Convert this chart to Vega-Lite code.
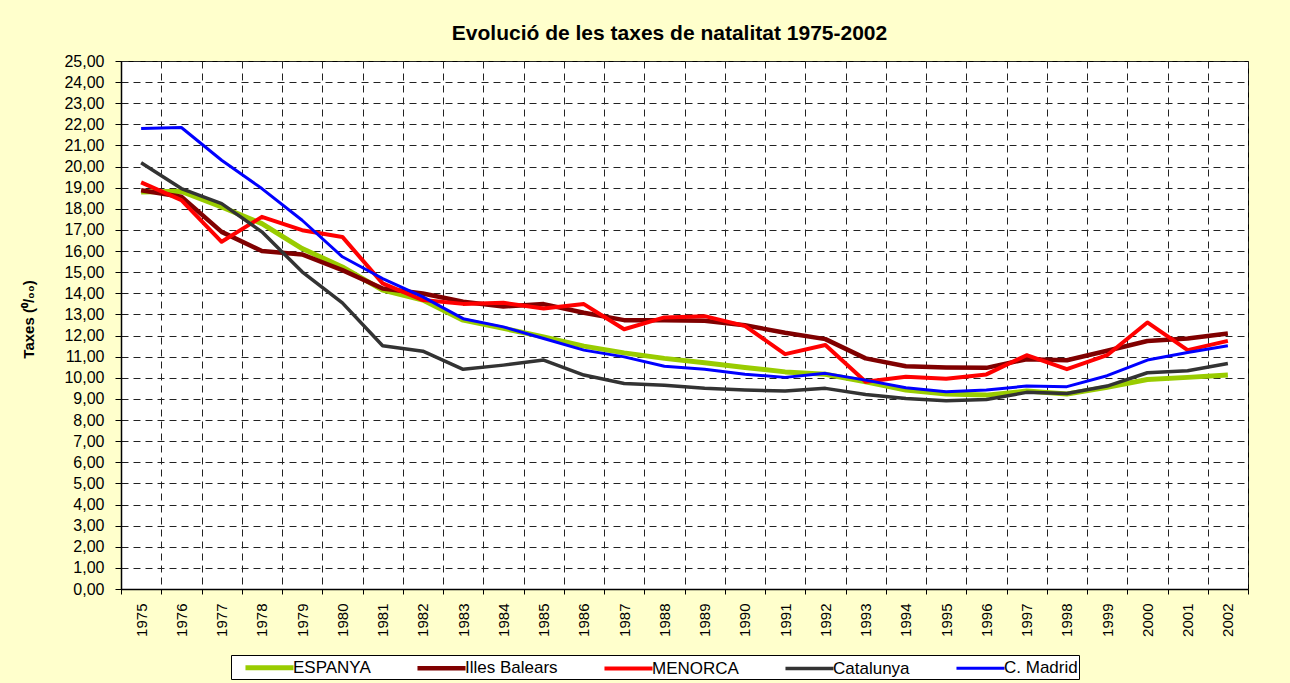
{
  "$schema": "https://vega.github.io/schema/vega-lite/v6.json",
  "width": 1127,
  "height": 528,
  "autosize": {"type": "none"},
  "padding": {"left": 121, "top": 61, "right": 42, "bottom": 94},
  "background": "#FFFFCC",
  "title": {
    "text": "Evolució de les taxes de natalitat 1975-2002",
    "font": "Liberation Sans",
    "fontSize": 21,
    "fontWeight": "bold",
    "color": "black",
    "anchor": "middle",
    "offset": 9,
    "dx": -15
  },
  "config": {
    "view": {"stroke": "black", "strokeWidth": 1, "fill": "white"},
    "axis": {
      "domainColor": "black",
      "domainWidth": 1.5,
      "tickColor": "black",
      "tickWidth": 1,
      "labelFont": "Liberation Sans",
      "labelColor": "black",
      "labelFontSize": 15,
      "gridColor": "#222222",
      "gridDash": [7, 5],
      "gridWidth": 1,
      "gridOpacity": 1
    }
  },
  "data": {
    "values": [
      {"any": 1975, "serie": "ESPANYA", "taxa": 18.80},
      {"any": 1976, "serie": "ESPANYA", "taxa": 18.83},
      {"any": 1977, "serie": "ESPANYA", "taxa": 18.09},
      {"any": 1978, "serie": "ESPANYA", "taxa": 17.30},
      {"any": 1979, "serie": "ESPANYA", "taxa": 16.12},
      {"any": 1980, "serie": "ESPANYA", "taxa": 15.25},
      {"any": 1981, "serie": "ESPANYA", "taxa": 14.15},
      {"any": 1982, "serie": "ESPANYA", "taxa": 13.68},
      {"any": 1983, "serie": "ESPANYA", "taxa": 12.73},
      {"any": 1984, "serie": "ESPANYA", "taxa": 12.34},
      {"any": 1985, "serie": "ESPANYA", "taxa": 11.94},
      {"any": 1986, "serie": "ESPANYA", "taxa": 11.50},
      {"any": 1987, "serie": "ESPANYA", "taxa": 11.18},
      {"any": 1988, "serie": "ESPANYA", "taxa": 10.92},
      {"any": 1989, "serie": "ESPANYA", "taxa": 10.71},
      {"any": 1990, "serie": "ESPANYA", "taxa": 10.49},
      {"any": 1991, "serie": "ESPANYA", "taxa": 10.28},
      {"any": 1992, "serie": "ESPANYA", "taxa": 10.17},
      {"any": 1993, "serie": "ESPANYA", "taxa": 9.81},
      {"any": 1994, "serie": "ESPANYA", "taxa": 9.42},
      {"any": 1995, "serie": "ESPANYA", "taxa": 9.23},
      {"any": 1996, "serie": "ESPANYA", "taxa": 9.18},
      {"any": 1997, "serie": "ESPANYA", "taxa": 9.37},
      {"any": 1998, "serie": "ESPANYA", "taxa": 9.23},
      {"any": 1999, "serie": "ESPANYA", "taxa": 9.55},
      {"any": 2000, "serie": "ESPANYA", "taxa": 9.92},
      {"any": 2001, "serie": "ESPANYA", "taxa": 10.02},
      {"any": 2002, "serie": "ESPANYA", "taxa": 10.13},
      {"any": 1975, "serie": "Illes Balears", "taxa": 18.88},
      {"any": 1976, "serie": "Illes Balears", "taxa": 18.57},
      {"any": 1977, "serie": "Illes Balears", "taxa": 16.91},
      {"any": 1978, "serie": "Illes Balears", "taxa": 16.00},
      {"any": 1979, "serie": "Illes Balears", "taxa": 15.84},
      {"any": 1980, "serie": "Illes Balears", "taxa": 15.10},
      {"any": 1981, "serie": "Illes Balears", "taxa": 14.23},
      {"any": 1982, "serie": "Illes Balears", "taxa": 13.99},
      {"any": 1983, "serie": "Illes Balears", "taxa": 13.60},
      {"any": 1984, "serie": "Illes Balears", "taxa": 13.38},
      {"any": 1985, "serie": "Illes Balears", "taxa": 13.49},
      {"any": 1986, "serie": "Illes Balears", "taxa": 13.08},
      {"any": 1987, "serie": "Illes Balears", "taxa": 12.73},
      {"any": 1988, "serie": "Illes Balears", "taxa": 12.73},
      {"any": 1989, "serie": "Illes Balears", "taxa": 12.70},
      {"any": 1990, "serie": "Illes Balears", "taxa": 12.49},
      {"any": 1991, "serie": "Illes Balears", "taxa": 12.13},
      {"any": 1992, "serie": "Illes Balears", "taxa": 11.83},
      {"any": 1993, "serie": "Illes Balears", "taxa": 10.92},
      {"any": 1994, "serie": "Illes Balears", "taxa": 10.55},
      {"any": 1995, "serie": "Illes Balears", "taxa": 10.49},
      {"any": 1996, "serie": "Illes Balears", "taxa": 10.47},
      {"any": 1997, "serie": "Illes Balears", "taxa": 10.88},
      {"any": 1998, "serie": "Illes Balears", "taxa": 10.83},
      {"any": 1999, "serie": "Illes Balears", "taxa": 11.28},
      {"any": 2000, "serie": "Illes Balears", "taxa": 11.74},
      {"any": 2001, "serie": "Illes Balears", "taxa": 11.86},
      {"any": 2002, "serie": "Illes Balears", "taxa": 12.10},
      {"any": 1975, "serie": "MENORCA", "taxa": 19.25},
      {"any": 1976, "serie": "MENORCA", "taxa": 18.41},
      {"any": 1977, "serie": "MENORCA", "taxa": 16.44},
      {"any": 1978, "serie": "MENORCA", "taxa": 17.62},
      {"any": 1979, "serie": "MENORCA", "taxa": 16.99},
      {"any": 1980, "serie": "MENORCA", "taxa": 16.67},
      {"any": 1981, "serie": "MENORCA", "taxa": 14.47},
      {"any": 1982, "serie": "MENORCA", "taxa": 13.68},
      {"any": 1983, "serie": "MENORCA", "taxa": 13.50},
      {"any": 1984, "serie": "MENORCA", "taxa": 13.55},
      {"any": 1985, "serie": "MENORCA", "taxa": 13.28},
      {"any": 1986, "serie": "MENORCA", "taxa": 13.49},
      {"any": 1987, "serie": "MENORCA", "taxa": 12.30},
      {"any": 1988, "serie": "MENORCA", "taxa": 12.86},
      {"any": 1989, "serie": "MENORCA", "taxa": 12.92},
      {"any": 1990, "serie": "MENORCA", "taxa": 12.46},
      {"any": 1991, "serie": "MENORCA", "taxa": 11.12},
      {"any": 1992, "serie": "MENORCA", "taxa": 11.55},
      {"any": 1993, "serie": "MENORCA", "taxa": 9.81},
      {"any": 1994, "serie": "MENORCA", "taxa": 10.05},
      {"any": 1995, "serie": "MENORCA", "taxa": 9.96},
      {"any": 1996, "serie": "MENORCA", "taxa": 10.16},
      {"any": 1997, "serie": "MENORCA", "taxa": 11.07},
      {"any": 1998, "serie": "MENORCA", "taxa": 10.41},
      {"any": 1999, "serie": "MENORCA", "taxa": 11.07},
      {"any": 2000, "serie": "MENORCA", "taxa": 12.62},
      {"any": 2001, "serie": "MENORCA", "taxa": 11.31},
      {"any": 2002, "serie": "MENORCA", "taxa": 11.75},
      {"any": 1975, "serie": "Catalunya", "taxa": 20.18},
      {"any": 1976, "serie": "Catalunya", "taxa": 18.96},
      {"any": 1977, "serie": "Catalunya", "taxa": 18.25},
      {"any": 1978, "serie": "Catalunya", "taxa": 16.91},
      {"any": 1979, "serie": "Catalunya", "taxa": 15.02},
      {"any": 1980, "serie": "Catalunya", "taxa": 13.55},
      {"any": 1981, "serie": "Catalunya", "taxa": 11.52},
      {"any": 1982, "serie": "Catalunya", "taxa": 11.26},
      {"any": 1983, "serie": "Catalunya", "taxa": 10.40},
      {"any": 1984, "serie": "Catalunya", "taxa": 10.60},
      {"any": 1985, "serie": "Catalunya", "taxa": 10.84},
      {"any": 1986, "serie": "Catalunya", "taxa": 10.13},
      {"any": 1987, "serie": "Catalunya", "taxa": 9.73},
      {"any": 1988, "serie": "Catalunya", "taxa": 9.65},
      {"any": 1989, "serie": "Catalunya", "taxa": 9.50},
      {"any": 1990, "serie": "Catalunya", "taxa": 9.42},
      {"any": 1991, "serie": "Catalunya", "taxa": 9.37},
      {"any": 1992, "serie": "Catalunya", "taxa": 9.50},
      {"any": 1993, "serie": "Catalunya", "taxa": 9.21},
      {"any": 1994, "serie": "Catalunya", "taxa": 9.02},
      {"any": 1995, "serie": "Catalunya", "taxa": 8.91},
      {"any": 1996, "serie": "Catalunya", "taxa": 8.97},
      {"any": 1997, "serie": "Catalunya", "taxa": 9.31},
      {"any": 1998, "serie": "Catalunya", "taxa": 9.26},
      {"any": 1999, "serie": "Catalunya", "taxa": 9.61},
      {"any": 2000, "serie": "Catalunya", "taxa": 10.24},
      {"any": 2001, "serie": "Catalunya", "taxa": 10.33},
      {"any": 2002, "serie": "Catalunya", "taxa": 10.68},
      {"any": 1975, "serie": "C. Madrid", "taxa": 21.80},
      {"any": 1976, "serie": "C. Madrid", "taxa": 21.85},
      {"any": 1977, "serie": "C. Madrid", "taxa": 20.30},
      {"any": 1978, "serie": "C. Madrid", "taxa": 18.96},
      {"any": 1979, "serie": "C. Madrid", "taxa": 17.46},
      {"any": 1980, "serie": "C. Madrid", "taxa": 15.73},
      {"any": 1981, "serie": "C. Madrid", "taxa": 14.70},
      {"any": 1982, "serie": "C. Madrid", "taxa": 13.83},
      {"any": 1983, "serie": "C. Madrid", "taxa": 12.80},
      {"any": 1984, "serie": "C. Madrid", "taxa": 12.41},
      {"any": 1985, "serie": "C. Madrid", "taxa": 11.86},
      {"any": 1986, "serie": "C. Madrid", "taxa": 11.31},
      {"any": 1987, "serie": "C. Madrid", "taxa": 10.99},
      {"any": 1988, "serie": "C. Madrid", "taxa": 10.55},
      {"any": 1989, "serie": "C. Madrid", "taxa": 10.40},
      {"any": 1990, "serie": "C. Madrid", "taxa": 10.17},
      {"any": 1991, "serie": "C. Madrid", "taxa": 10.02},
      {"any": 1992, "serie": "C. Madrid", "taxa": 10.21},
      {"any": 1993, "serie": "C. Madrid", "taxa": 9.89},
      {"any": 1994, "serie": "C. Madrid", "taxa": 9.53},
      {"any": 1995, "serie": "C. Madrid", "taxa": 9.34},
      {"any": 1996, "serie": "C. Madrid", "taxa": 9.42},
      {"any": 1997, "serie": "C. Madrid", "taxa": 9.61},
      {"any": 1998, "serie": "C. Madrid", "taxa": 9.58},
      {"any": 1999, "serie": "C. Madrid", "taxa": 10.10},
      {"any": 2000, "serie": "C. Madrid", "taxa": 10.84},
      {"any": 2001, "serie": "C. Madrid", "taxa": 11.20},
      {"any": 2002, "serie": "C. Madrid", "taxa": 11.52}
    ]
  },
  "mark": {"type": "line", "strokeJoin": "round", "strokeCap": "butt"},
  "encoding": {
    "x": {
      "field": "any",
      "type": "ordinal",
      "bandPosition": 0.5,
      "scale": {"type": "band", "paddingInner": 0, "paddingOuter": 0},
      "axis": {
        "title": null,
        "labelAngle": -90,
        "tickBand": "extent",
        "tickSize": 5,
        "labelPadding": 9,
        "grid": true
      }
    },
    "y": {
      "field": "taxa",
      "type": "quantitative",
      "scale": {"domain": [0, 25], "nice": false, "zero": true},
      "axis": {
        "values": [0, 1, 2, 3, 4, 5, 6, 7, 8, 9, 10, 11, 12, 13, 14, 15, 16, 17, 18, 19, 20, 21, 22, 23, 24, 25],
        "labelExpr": "replace(format(datum.value, '.2f'), '.', ',')",
        "labelFontSize": 16,
        "title": "Taxes (⁰/₀₀)",
        "titleFont": "Liberation Sans",
        "titleFontSize": 15,
        "titleFontWeight": "bold",
        "titleColor": "black",
        "titleAngle": -90,
        "titleX": -93,
        "titleY": 258,
        "titleAlign": "center",
        "titleBaseline": "middle",
        "tickSize": 6,
        "labelPadding": 11,
        "grid": true
      }
    },
    "color": {
      "field": "serie",
      "type": "nominal",
      "sort": null,
      "scale": {
        "domain": ["ESPANYA", "Illes Balears", "MENORCA", "Catalunya", "C. Madrid"],
        "range": ["#99CC00", "#800000", "#FF0000", "#333333", "#0000FF"]
      },
      "legend": {
        "title": null,
        "orient": "none",
        "legendX": 110,
        "legendY": 594,
        "direction": "horizontal",
        "columns": 5,
        "symbolType": "M-2.67,0H2.67",
        "symbolSize": 324,
        "symbolOffset": 26,
        "symbolStrokeWidth": 3,
        "labelFont": "Liberation Sans",
        "labelFontSize": 17,
        "labelColor": "black",
        "labelOffset": 12,
        "columnPadding": 33,
        "padding": 1,
        "strokeColor": "black",
        "fillColor": "white"
      }
    },
    "strokeWidth": {
      "field": "serie",
      "type": "nominal",
      "sort": null,
      "scale": {
        "domain": ["ESPANYA", "Illes Balears", "MENORCA", "Catalunya", "C. Madrid"],
        "range": [5, 3, 3, 3, 3]
      },
      "legend": {
        "title": null,
        "orient": "none",
        "legendX": 110,
        "legendY": 594,
        "direction": "horizontal",
        "columns": 5,
        "symbolType": "M-2.67,0H2.67",
        "symbolSize": 324,
        "symbolOffset": 26,
        "labelFont": "Liberation Sans",
        "labelFontSize": 17,
        "labelColor": "black",
        "labelOffset": 12,
        "columnPadding": 33,
        "padding": 1,
        "strokeColor": "black",
        "fillColor": "white"
      }
    }
  }
}
